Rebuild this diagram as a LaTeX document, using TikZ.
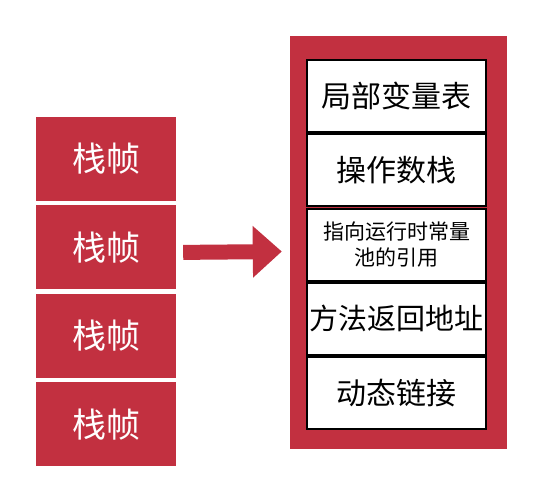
\documentclass[tikz,border=0pt]{standalone}
\usepackage{fontspec}
\setmainfont{Noto Sans CJK SC}
\usetikzlibrary{arrows.meta,positioning}
\definecolor{framered}{RGB}{194,48,64}

\begin{document}
\begin{tikzpicture}[x=1pt,y=-1pt,
  fbox/.style={fill=framered,minimum width=140pt,minimum height=84pt,inner sep=0pt,
               font=\fontsize{34}{40}\selectfont,text=white},
  ibox/.style={draw=black,line width=1.8pt,fill=white,minimum width=179pt,
               minimum height=72pt,inner sep=0pt,font=\fontsize{30}{36}\selectfont},
  arr/.style={-{Triangle[length=29pt,width=50pt]},line width=15pt,framered}]
\useasboundingbox (0,0) rectangle (556,479);
% stack of frames
\node[fbox] (f1) at (106,159) {栈帧};
\node[fbox,below=4pt of f1] (f2) {栈帧};
\node[fbox,below=4pt of f2] (f3) {栈帧};
\node[fbox,below=4pt of f3] (f4) {栈帧};
% one frame, opened up
\node[fill=framered,minimum width=217pt,minimum height=413pt] (frame) at (398.5,242.5) {};
\node[ibox] (lvt) at (396.5,96) {局部变量表};
\node[ibox,below=0.5pt of lvt] (ops) {操作数栈};
\node[ibox,below=0.5pt of ops,align=center,font=\fontsize{21}{26}\selectfont] (cpref) {指向运行时常量\\池的引用};
\node[ibox,below=0.5pt of cpref,font=\fontsize{29}{34}\selectfont] (ret) {方法返回地址};
\node[ibox,below=0.5pt of ret] (dyn) {动态链接};
\draw[arr] ([xshift=7pt,yshift=-5pt]f2.east) -- ([xshift=-8pt,yshift=-9pt]frame.west);
\end{tikzpicture}
\end{document}
